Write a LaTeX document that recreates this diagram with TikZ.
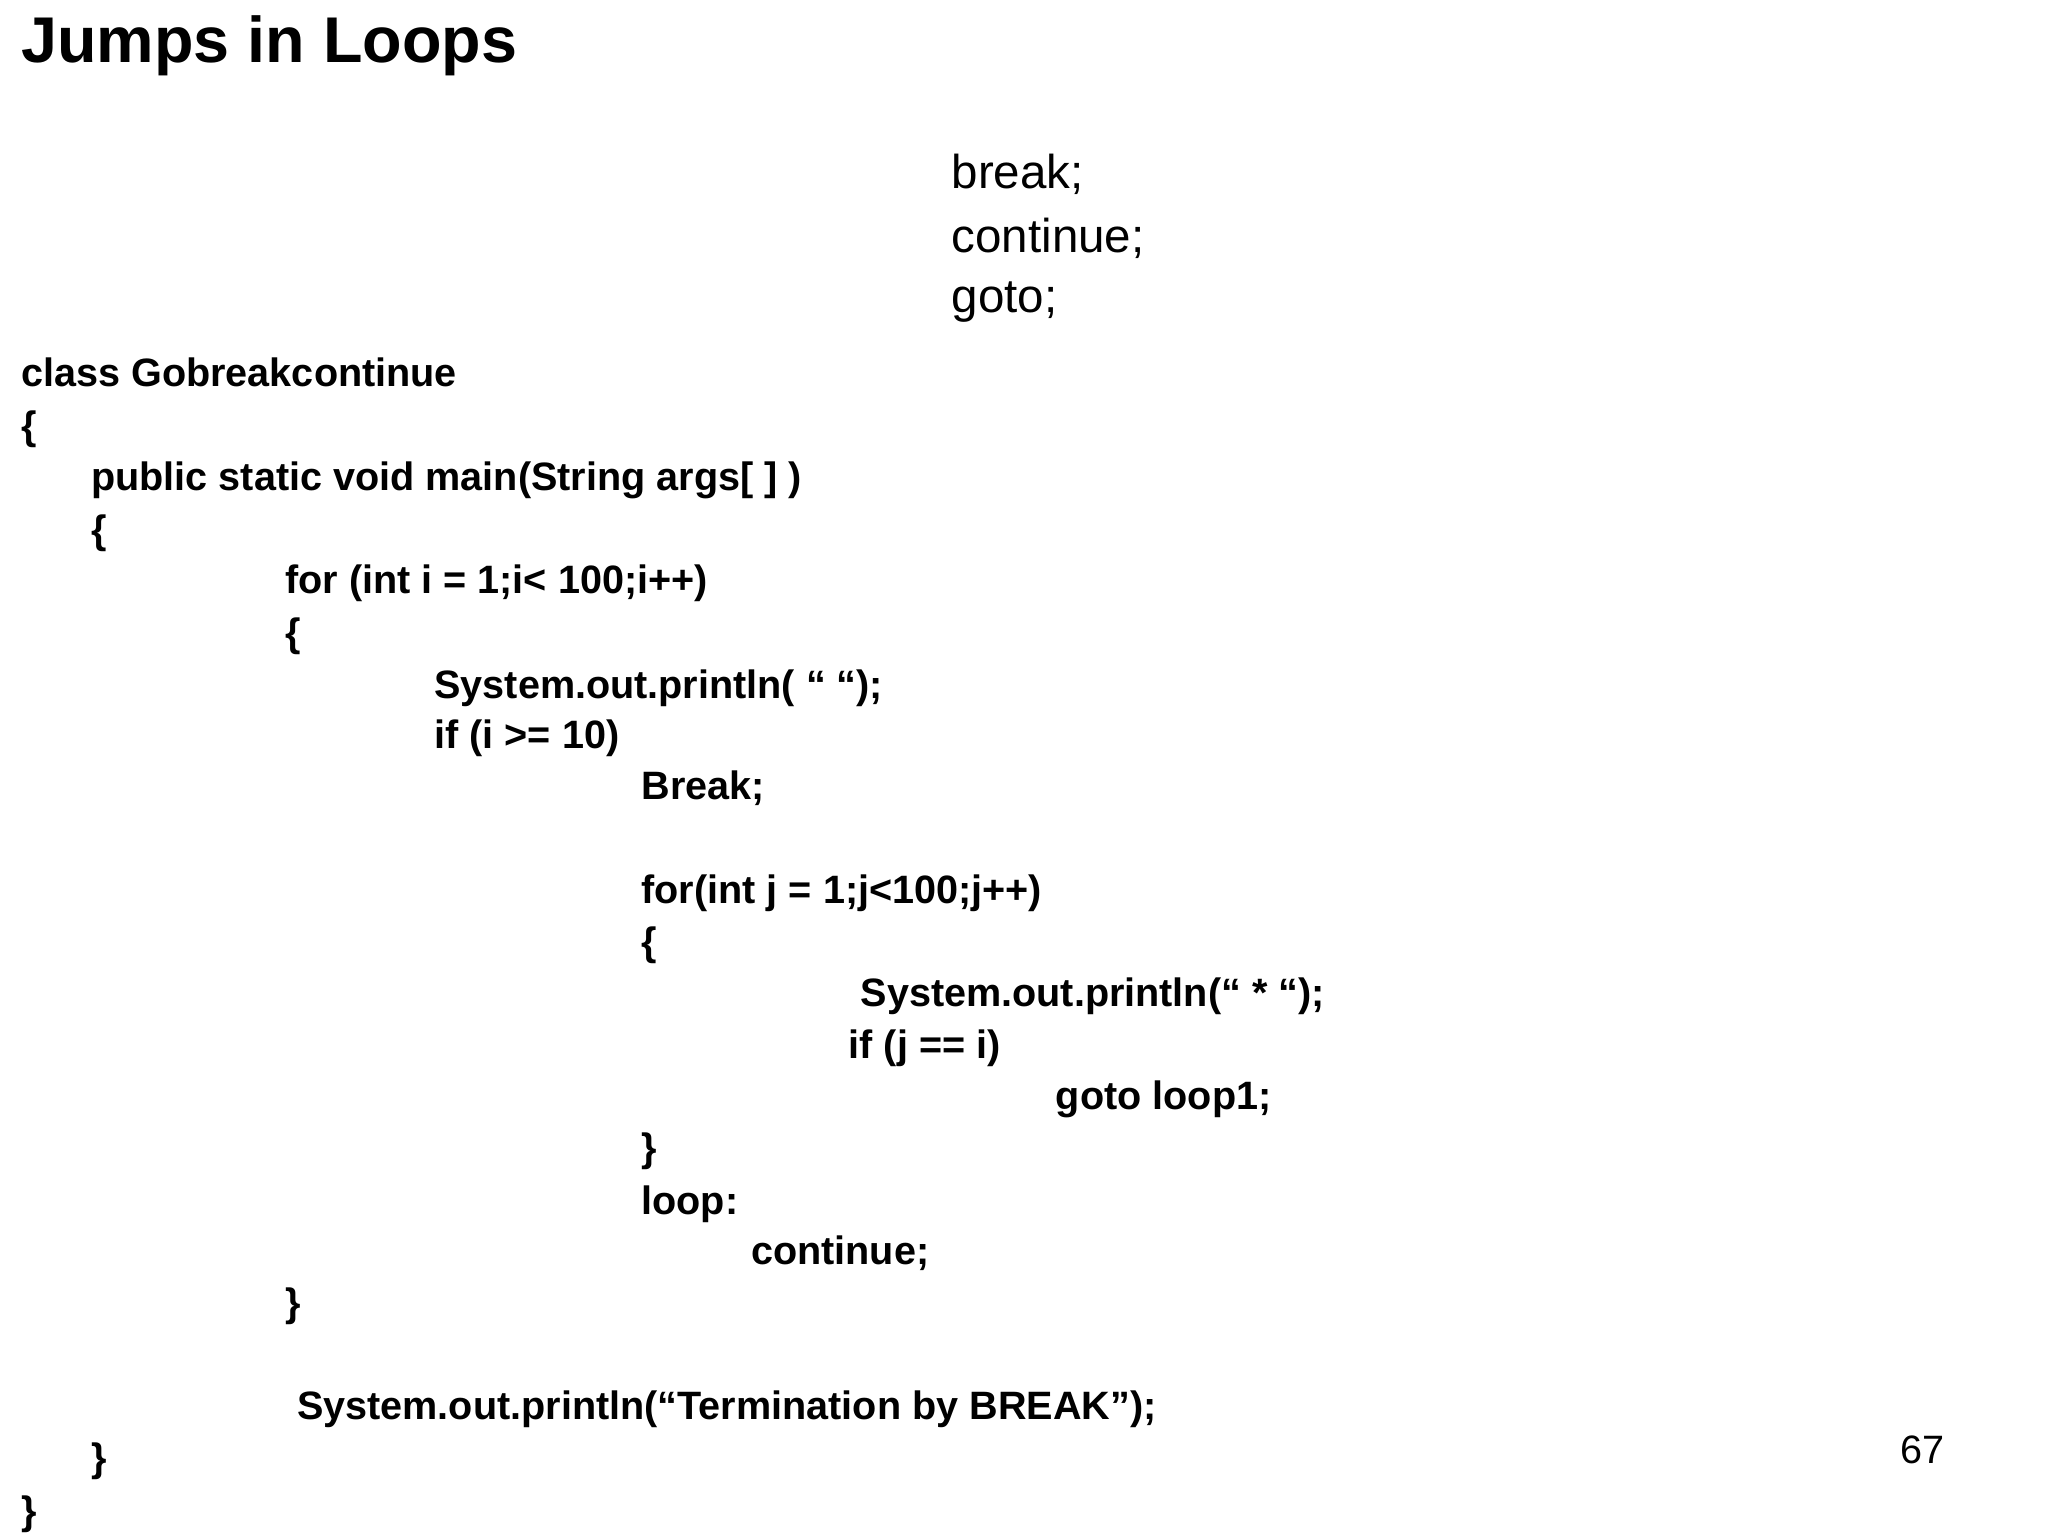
\documentclass[tikz,border=0pt]{standalone}
\usepackage{fontspec}
\setmainfont{Liberation Sans}
\begin{document}
\begin{tikzpicture}[x=1pt,y=-1pt,
  code/.style={anchor=base west,inner sep=0pt,font=\fontsize{30}{36}\selectfont\bfseries},
  kw/.style={anchor=base west,inner sep=0pt,font=\fontsize{36}{42}\selectfont}]
\useasboundingbox (0,0) rectangle (1552,1164);
\fill[white] (0,0) rectangle (1552,1164);
\node[anchor=base west,inner sep=0pt,font=\fontsize{49}{56}\selectfont\bfseries] (title) at (16,47) {Jumps in Loops};
\node[kw] (k1) at (721,143) {break;};
\node[kw] (k2) at (721,191) {continue;};
\node[kw] (k3) at (721,237) {goto;};
\node[code] (l1) at (16,293) {class Gobreakcontinue};
\node[code] (l2) at (16,333) {\{};
\node[code] (l3) at (69,372) {public static void main(String args[ ] )};
\node[code] (l4) at (69,412) {\{};
\node[code] (l5) at (216,450) {for (int i = 1;i< 100;i++)};
\node[code] (l6) at (216,490) {\{};
\node[code] (l7) at (329,529) {System.out.println( “ “);};
\node[code] (l8) at (329,567) {if (i >= 10)};
\node[code] (l9) at (486,606) {Break;};
\node[code] (l10) at (486,685) {for(int j = 1;j<100;j++)};
\node[code] (l11) at (486,724) {\{};
\node[code] (l12) at (652,763) {System.out.println(“ * “);};
\node[code] (l13) at (643,802) {if (j == i)};
\node[code] (l14) at (800,841) {goto loop1;};
\node[code] (l15) at (486,880) {\}};
\node[code] (l16) at (486,920) {loop:};
\node[code] (l17) at (569,958) {continue;};
\node[code] (l18) at (216,998) {\}};
\node[code] (l19) at (225,1076) {System.out.println(“Termination by BREAK”);};
\node[code] (l20) at (69,1115) {\}};
\node[code] (l21) at (16,1155) {\}};
\node[anchor=base west,inner sep=0pt,font=\fontsize{30}{36}\selectfont] (pg) at (1440,1109) {67};
\end{tikzpicture}
\end{document}
